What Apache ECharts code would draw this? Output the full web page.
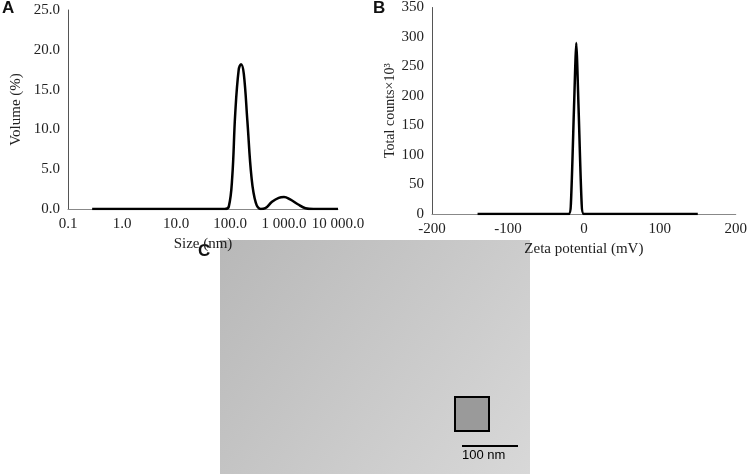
<!DOCTYPE html>
<html><head><meta charset="utf-8">
<script src="https://cdn.jsdelivr.net/npm/echarts@6/dist/echarts.min.js"></script>
<style>html,body{margin:0;padding:0;background:#fff}#c{width:750px;height:474px}</style>
</head><body><div id="c"></div>
<script>
const sizeNm = [0.28,50,80,95,110,125,145,160,180,210,250,300,370,450,600,800,1000,1300,1800,2500,3500,10000];
const volumePct = [0,0,0,0.3,4,12,17.5,18.2,17,11,4,0.8,0,0.1,0.9,1.4,1.5,1.2,0.6,0.1,0,0];
const zetaMv = [-140,-20,-17,-13,-10,-7,-3,0,150];
const counts = [0,0,20,180,290,180,20,0,0];
const sizeLabels = {0.1:'0.1',1:'1.0',10:'10.0',100:'100.0',1000:'1 000.0',10000:'10 000.0'};

const F = 'Liberation Serif';
const ax = {fontFamily:F,fontSize:15,color:'#222'};
const chart = echarts.init(document.getElementById('c'));
chart.setOption({
  animation:false,
  grid:[{left:68,right:412,top:10,bottom:265},{left:432,right:7,top:7,bottom:260}],
  xAxis:[
    {type:'log',gridIndex:0,min:0.1,max:10000,logBase:10,name:'Size (nm)',nameLocation:'middle',nameGap:28,nameTextStyle:ax,
     axisLabel:{...ax,formatter:v=>sizeLabels[v]??''},axisLine:{lineStyle:{color:'#888'}},axisTick:{show:false},splitLine:{show:false}},
    {type:'value',gridIndex:1,min:-200,max:200,interval:100,name:'Zeta potential (mV)',nameLocation:'middle',nameGap:28,nameTextStyle:ax,
     axisLabel:ax,axisLine:{onZero:false,lineStyle:{color:'#888'}},axisTick:{show:false},splitLine:{show:false}}
  ],
  yAxis:[
    {type:'value',gridIndex:0,min:0,max:25,interval:5,name:'Volume (%)',nameLocation:'middle',nameGap:44,nameTextStyle:ax,
     axisLabel:{...ax,formatter:v=>v.toFixed(1)},axisLine:{show:true,onZero:false,lineStyle:{color:'#555'}},axisTick:{show:false},splitLine:{show:false}},
    {type:'value',gridIndex:1,min:0,max:350,interval:50,name:'Total counts×10³',nameLocation:'middle',nameGap:34,nameTextStyle:{...ax,fontSize:14},
     axisLabel:ax,axisLine:{show:true,onZero:false,lineStyle:{color:'#555'}},axisTick:{show:false},splitLine:{show:false}}
  ],
  series:[
    {type:'line',xAxisIndex:0,yAxisIndex:0,data:sizeNm.map((x,i)=>[x,volumePct[i]]),smooth:0.4,showSymbol:false,lineStyle:{color:'#000',width:2.5}},
    {type:'line',xAxisIndex:1,yAxisIndex:1,data:zetaMv.map((x,i)=>[x,counts[i]]),smooth:0.2,showSymbol:false,lineStyle:{color:'#000',width:2.5}}
  ],
  graphic:[
    {type:'text',left:2,top:0,style:{text:'A',font:'bold 17px Liberation Sans',fill:'#111'}},
    {type:'text',left:373,top:0,style:{text:'B',font:'bold 17px Liberation Sans',fill:'#111'}},
    {type:'text',left:198,top:243,style:{text:'C',font:'bold 17px Liberation Sans',fill:'#111'}},
    {type:'rect',shape:{x:220,y:240,width:310,height:234},style:{fill:{type:'linear',x:0,y:0,x2:1,y2:1,colorStops:[{offset:0,color:'#b8b8b8'},{offset:1,color:'#d8d8d8'}]}}},
    {type:'rect',shape:{x:455,y:397,width:34,height:34},style:{fill:'#9a9a9a',stroke:'#000',lineWidth:2}},
    {type:'line',shape:{x1:462,y1:446,x2:518,y2:446},style:{stroke:'#000',lineWidth:2}},
    {type:'text',left:462,top:449,style:{text:'100 nm',font:'13px Liberation Sans',fill:'#000'}}
  ]
});
</script></body></html>
